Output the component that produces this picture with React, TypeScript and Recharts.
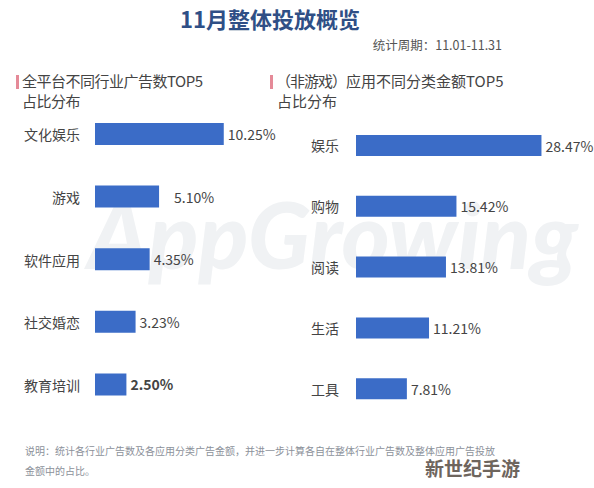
import React from 'react';
import { BarChart, Bar, XAxis, YAxis } from 'recharts';

const leftCategories = ['文化娱乐', '游戏', '软件应用', '社交婚恋', '教育培训'];
const leftValues = [10.25, 5.1, 4.35, 3.23, 2.5];

const rightCategories = ['娱乐', '购物', '阅读', '生活', '工具'];
const rightValues = [28.47, 15.42, 13.81, 11.21, 7.81];

const BAR = '#3b6cc7';
const FONT = '"Noto Sans CJK SC", "Noto Sans", sans-serif';

const leftData = leftCategories.map((name, i) => ({ name, value: leftValues[i] }));
const rightData = rightCategories.map((name, i) => ({ name, value: rightValues[i] }));

const fmt = (v: number) => `${v.toFixed(2)}%`;

const App: React.FC = () => {
  // value labels, with the odd spacing/bold of the original
  const leftLabel = (p: any) => {
    const idx = p.index ?? leftValues.indexOf(p.value);
    const gap = idx === 1 ? 15 : 4;
    return (
      <text x={p.x + p.width + gap} y={p.y + p.height / 2} dominantBaseline="central"
        fontSize={14} fill="#444" fontWeight={idx === 4 ? 700 : 400} fontFamily={FONT}>
        {fmt(p.value)}
      </text>
    );
  };

  const rightLabel = (p: any) => (
    <text x={p.x + p.width + 4} y={p.y + p.height / 2} dominantBaseline="central"
      fontSize={14} fill="#444" fontFamily={FONT}>
      {fmt(p.value)}
    </text>
  );

  return (
    <div style={{ position: 'absolute', left: 0, top: 0, width: 594, height: 488, background: '#fff', overflow: 'hidden', fontFamily: FONT }}>
      {/* watermark */}
      <div style={{ position: 'absolute', left: 88, top: 188, fontFamily: 'Lato, sans-serif', fontStyle: 'italic', fontWeight: 900, fontSize: 92, lineHeight: 1, color: '#f0f2f4', whiteSpace: 'nowrap' }}>
        AppGrowing
      </div>

      <div style={{ position: 'absolute', left: 180, top: 4, fontSize: 22, fontWeight: 700, color: '#2f4f86', lineHeight: '28px' }}>
        11月整体投放概览
      </div>
      <div style={{ position: 'absolute', right: 92, top: 37, fontSize: 12.5, color: '#555', lineHeight: '16px' }}>
        统计周期：11.01-11.31
      </div>

      {/* panel headings */}
      <div style={{ position: 'absolute', left: 16, top: 75, width: 3, height: 14, background: '#e58a98' }} />
      <div style={{ position: 'absolute', left: 22, top: 71, fontSize: 15, color: '#444', lineHeight: '20px', letterSpacing: -0.5 }}>
        全平台不同行业广告数TOP5<br />占比分布
      </div>
      <div style={{ position: 'absolute', left: 270, top: 75, width: 3, height: 14, background: '#e58a98' }} />
      <div style={{ position: 'absolute', left: 276, top: 71, fontSize: 15, color: '#444', lineHeight: '20px' }}>
        <span style={{ letterSpacing: -1 }}>（非游戏）</span>应用不同分类金额TOP5<br /><span style={{ marginLeft: 1 }}>占比分布</span>
      </div>

      <div style={{ position: 'absolute', left: 0, top: 103 }}>
        <BarChart width={300} height={313} data={leftData} layout="vertical"
          margin={{ top: 0, right: 4, bottom: 0, left: 0 }} barCategoryGap={0}>
          <XAxis type="number" hide domain={[0, 16]} />
          <YAxis type="category" dataKey="name" width={95} axisLine={false} tickLine={false}
            tick={(p: any) => (
              <text x={80} y={p.y} textAnchor="end" dominantBaseline="central" fontSize={14} fill="#444" fontFamily={FONT}>
                {p.payload.value}
              </text>
            )} />
          <Bar dataKey="value" fill={BAR} barSize={22} isAnimationActive={false} label={leftLabel} />
        </BarChart>
      </div>

      <div style={{ position: 'absolute', left: 300, top: 115 }}>
        <BarChart width={294} height={304} data={rightData} layout="vertical"
          margin={{ top: 0, right: 10, bottom: 0, left: 0 }} barCategoryGap={0}>
          <XAxis type="number" hide domain={[0, 35]} />
          <YAxis type="category" dataKey="name" width={56} axisLine={false} tickLine={false}
            tick={(p: any) => (
              <text x={11} y={p.y} dominantBaseline="central" fontSize={14} fill="#444" fontFamily={FONT}>
                {p.payload.value}
              </text>
            )} />
          <Bar dataKey="value" fill={BAR} barSize={21} isAnimationActive={false} label={rightLabel} />
        </BarChart>
      </div>

      <div style={{ position: 'absolute', left: 25, top: 441, fontSize: 10, color: '#8c919a', lineHeight: '20px', whiteSpace: 'nowrap' }}>
        说明：统计各行业广告数及各应用分类广告金额，并进一步计算各自在整体行业广告数及整体应用广告投放<br />金额中的占比。
      </div>

      <div style={{ position: 'absolute', left: 425, top: 455, fontSize: 19, fontWeight: 700, color: '#6e655d', lineHeight: '26px', textShadow: '0 0 2px #fff' }}>
        新世纪手游
      </div>
    </div>
  );
};

export default App;
